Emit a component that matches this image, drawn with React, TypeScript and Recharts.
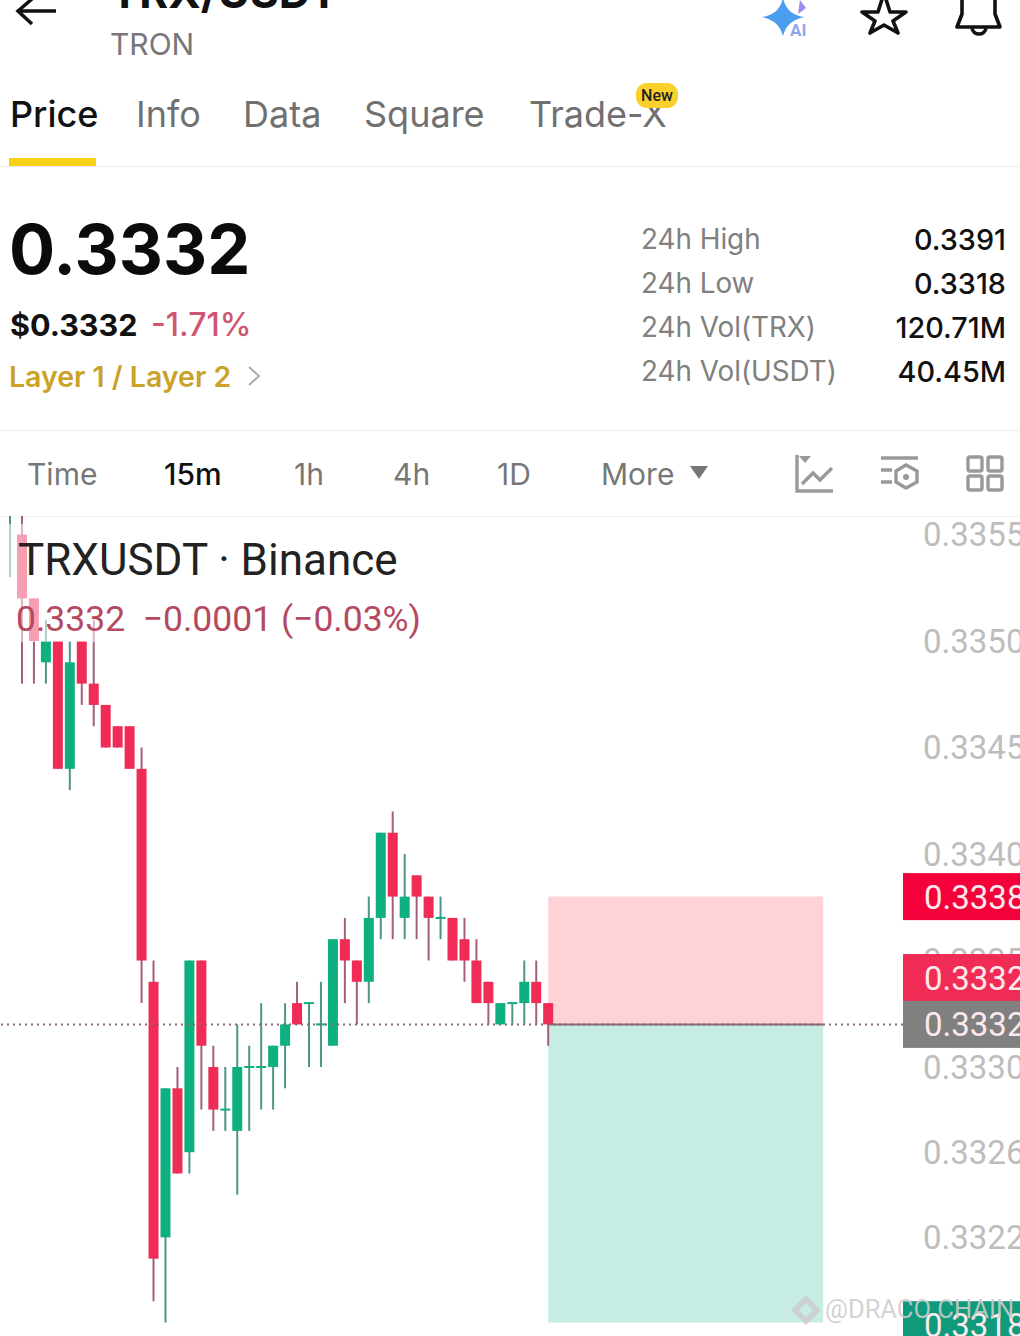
import React from 'react';
import { Bar, ComposedChart, ReferenceArea, ReferenceDot, ReferenceLine, XAxis, YAxis } from 'recharts';

// 15m candles (one tick = 0.0001)
const opens = [0.3356, 0.3355, 0.3352, 0.3349, 0.335, 0.3344, 0.335, 0.3348, 0.3347, 0.3346, 0.3346, 0.3344, 0.3334, 0.3322, 0.3329, 0.3326, 0.3335, 0.333, 0.3328, 0.3327, 0.333, 0.333, 0.333, 0.3331, 0.3333, 0.3333, 0.3332, 0.3331, 0.3336, 0.3335, 0.3334, 0.3337, 0.3341, 0.3337, 0.3339, 0.3338, 0.3337, 0.3337, 0.3336, 0.3335, 0.3334, 0.3332, 0.3333, 0.3333, 0.3334, 0.3333];
const highs = [0.3356, 0.3356, 0.3352, 0.3351, 0.335, 0.335, 0.335, 0.3351, 0.3347, 0.3346, 0.3346, 0.3345, 0.3335, 0.3329, 0.333, 0.3335, 0.3335, 0.3331, 0.333, 0.3332, 0.3331, 0.3333, 0.3331, 0.3333, 0.3334, 0.3333, 0.3334, 0.3336, 0.3337, 0.3335, 0.3338, 0.3341, 0.3342, 0.334, 0.3339, 0.3338, 0.3338, 0.3337, 0.3337, 0.3336, 0.3334, 0.3333, 0.3333, 0.3335, 0.3335, 0.3333];
const lows = [0.3353, 0.3348, 0.3348, 0.3348, 0.3344, 0.3343, 0.3347, 0.3346, 0.3345, 0.3345, 0.3344, 0.3333, 0.3319, 0.3318, 0.3325, 0.3325, 0.3328, 0.3327, 0.3327, 0.3324, 0.3327, 0.3328, 0.3328, 0.3329, 0.3332, 0.333, 0.333, 0.3331, 0.3333, 0.3332, 0.3333, 0.3336, 0.3336, 0.3336, 0.3336, 0.3335, 0.3336, 0.3335, 0.3334, 0.3333, 0.3332, 0.3332, 0.3332, 0.3332, 0.3332, 0.3331];
const closes = [0.3356, 0.3352, 0.335, 0.335, 0.3344, 0.3349, 0.3348, 0.3347, 0.3345, 0.3345, 0.3344, 0.3335, 0.3321, 0.3329, 0.3325, 0.3335, 0.3331, 0.3328, 0.3328, 0.333, 0.333, 0.333, 0.3331, 0.3332, 0.3332, 0.3333, 0.3332, 0.3336, 0.3335, 0.3334, 0.3337, 0.3341, 0.3338, 0.3338, 0.3338, 0.3337, 0.3337, 0.3335, 0.3335, 0.3333, 0.3333, 0.3333, 0.3333, 0.3334, 0.3333, 0.3332];

const priceTicks = [0.3355, 0.335, 0.3345, 0.334, 0.3335, 0.333, 0.3326, 0.3322, 0.3318];
const lastPrice = 0.3332;
const stopPrice = 0.3338;
const targetPrice = 0.3318;
const positionStart = 45;
const positionEnd = 68;

const tagValues = [0.3338, 0.33342, 0.3332, 0.33179];
const tagLabels = ['0.3338', '0.3332', '0.3332', '0.3318'];
const tagColors = ['#F4003A', '#F02C56', '#808080', '#0E9A7B'];

const tabs = ['Price', 'Info', 'Data', 'Square', 'Trade-X'];
const tabLefts = [10, 136, 243, 364, 529];
const intervals = ['Time', '15m', '1h', '4h', '1D', 'More'];
const intervalLefts = [27, 164, 294, 393, 497, 601];
const statLabels = ['24h High', '24h Low', '24h Vol(TRX)', '24h Vol(USDT)'];
const statValues = ['0.3391', '0.3318', '120.71M', '40.45M'];
const statRows = [240, 284, 328, 372];

const chartData = opens.map((open, i) => ({
  i,
  open,
  close: closes[i],
  range: [lows[i], highs[i]],
}));

const RED = '#EE2C55';
const GREEN = '#0EB07F';
const FONT = 'Roboto, sans-serif';
const UI_FONT = 'Inter, sans-serif';
const X_DOMAIN = [-0.836, 74.67];
const Y_DOMAIN = [0.331737, 0.335587];

function Candle(props: any) {
  const { x, y, width, height, payload } = props;
  const high = payload.range[1];
  const low = payload.range[0];
  const up = payload.close >= payload.open;
  const perPrice = height / (high - low);
  const bodyTop = y + (high - Math.max(payload.open, payload.close)) * perPrice;
  const bodyH = Math.abs(payload.open - payload.close) * perPrice;
  const cx = x + width / 2;
  return (
    <g>
      <line x1={cx} x2={cx} y1={y} y2={y + height} stroke={up ? '#4F9585' : '#A4607A'} strokeWidth={2} />
      <rect x={x} y={bodyTop - (bodyH ? 0 : 1)} width={width} height={bodyH || 2} fill={up ? GREEN : RED} />
    </g>
  );
}

function PriceTag(props: any) {
  const { cy, label, color } = props;
  return (
    <g>
      <rect x={903} y={cy - 23.5} width={117} height={47} fill={color} />
      <text x={924} y={cy + 12} fill="#FCE9EC" fontSize={33} fontFamily={FONT}>{label}</text>
    </g>
  );
}

function T({ x, y, size, color = '#777', weight = 400, right, font = UI_FONT, children }: any) {
  const pos: any = right !== undefined ? { right } : { left: x };
  return (
    <div style={{ position: 'absolute', ...pos, top: y, transform: 'translateY(-50%)', fontSize: size, color, fontWeight: weight, fontFamily: font, whiteSpace: 'pre', lineHeight: 1 }}>
      {children}
    </div>
  );
}

function Icons() {
  return (
    <svg width={1020} height={520} style={{ position: 'absolute', left: 0, top: 0 }}>
      {/* back arrow */}
      <path d="M56 11H20M32 -1L18 11L32 24" fill="none" stroke="#111" strokeWidth={3.5} />
      {/* AI sparkle */}
      <path d="M783 -2C786 10 792 15 804 17C792 20 786 25 783 36C780 25 774 20 762 17C774 15 780 10 783 -2Z" fill="#4C9CF0" />
      <path d="M800 0L806 8L798 14Z" fill="#9A8CF0" />
      <text x={790} y={36} fontSize={17} fontWeight={700} fill="#8FA5EA" fontFamily={FONT}>AI</text>
      {/* star */}
      <path d="M884 -7L890 12L906 12L893 21L898 33L884 25L870 33L875 21L862 12L878 12Z" fill="none" stroke="#111" strokeWidth={3.6} strokeLinejoin="round" />
      {/* bell */}
      <path d="M962 -5V14L957 27H1000L995 14V-5" fill="none" stroke="#111" strokeWidth={3.6} strokeLinejoin="round" />
      <path d="M972 28C973 36 985 36 986 28" fill="none" stroke="#111" strokeWidth={3.6} />
      {/* tab underline and dividers */}
      <rect x={9} y={158} width={87} height={8} fill="#F9D018" />
      <rect x={0} y={166} width={1020} height={1} fill="#EDEDED" />
      <rect x={0} y={430} width={1020} height={1} fill="#EDEDED" />
      <rect x={0} y={516} width={1020} height={1} fill="#F2F2F2" />
      {/* chevron and dropdown triangle */}
      <path d="M249 367L259 376L249 385" fill="none" stroke="#AAA" strokeWidth={2} />
      <path d="M690 466H708L699 479Z" fill="#777" />
      {/* toolbar icons */}
      <g fill="none" stroke="#999" strokeWidth={3.4}>
        <path d="M797 455V491H833" />
        <path d="M802 484L813 473L820 480L832 468" />
        <path d="M881 458H918M881 470H892M881 482H892" />
        <path d="M906 465L917 471V482L906 488L896 482V471Z" />
        <rect x={968} y={457} width={14} height={14} rx={2} />
        <rect x={988} y={457} width={14} height={14} rx={2} />
        <rect x={968} y={476} width={14} height={14} rx={2} />
        <rect x={988} y={476} width={14} height={14} rx={2} />
      </g>
      <path d="M799 456H811L805 463Z" fill="#999" />
      <circle cx={906} cy={477} r={3} fill="#999" />
    </svg>
  );
}

export default function App() {
  return (
    <div style={{ position: 'absolute', left: 0, top: 0, width: 1020, height: 1336, overflow: 'hidden', background: '#fff' }}>
      <Icons />
      <T x={110} y={-8} size={44} color="#111" weight={700}>TRX/USDT</T>
      <T x={110} y={44} size={30}>TRON</T>
      {tabs.map((t, i) => (
        <T key={t} x={tabLefts[i]} y={114} size={36} color={i === 0 ? '#111' : '#707070'} weight={i === 0 ? 500 : 400}>{t}</T>
      ))}
      {/* new badge sits over the last tab */}
      <svg width={50} height={30} style={{ position: 'absolute', left: 632, top: 80 }}>
        <rect x={4} y={3} width={42} height={25} rx={11} fill="#FAD02C" />
        <text x={25} y={21} textAnchor="middle" fontSize={16} fill="#222" fontFamily={FONT} fontWeight={500}>New</text>
      </svg>
      <T x={9} y={250} size={68.5} color="#0B0B0B" weight={700}>0.3332</T>
      <T x={10} y={325} size={30.5} color="#111" weight={700}>$0.3332</T>
      <T x={151} y={325} size={32} color="#CF5570" weight={500}>-1.71%</T>
      <T x={9} y={377} size={28.5} color="#C9A227" weight={600}>Layer 1 / Layer 2</T>
      {statLabels.map((s, i) => (
        <React.Fragment key={s}>
          <T x={641} y={statRows[i]} size={27.8} color="#808080">{s}</T>
          <T right={14} y={statRows[i]} size={28.8} color="#111" weight={500}>{statValues[i]}</T>
        </React.Fragment>
      ))}
      {intervals.map((t, i) => (
        <T key={t} x={intervalLefts[i]} y={474} size={30} color={i === 1 ? '#111' : '#777'} weight={i === 1 ? 500 : 400}>{t}</T>
      ))}

      <div style={{ position: 'absolute', left: 0, top: 516 }}>
        <ComposedChart width={1020} height={820} data={chartData} margin={{ top: 0, right: 0, bottom: 0, left: 0 }}>
          <XAxis type="number" dataKey="i" domain={X_DOMAIN} hide allowDataOverflow />
          <YAxis
            orientation="right"
            width={117}
            domain={Y_DOMAIN}
            allowDataOverflow
            ticks={priceTicks}
            interval={0}
            tickFormatter={(v: number) => v.toFixed(4)}
            axisLine={false}
            tickLine={false}
            tickSize={0}
            tickMargin={20}
            tick={{ fill: '#BDBDBD', fontSize: 33, fontFamily: FONT }}
          />
          <ReferenceArea x1={positionStart} x2={positionEnd} y1={stopPrice} y2={lastPrice} fill="#FFD2D8" fillOpacity={1} stroke="none" />
          <ReferenceArea x1={positionStart} x2={positionEnd} y1={lastPrice} y2={targetPrice} fill="#C6ECE4" fillOpacity={1} stroke="none" />
          <ReferenceLine y={lastPrice} stroke="#8A6A70" strokeWidth={2} strokeDasharray="2 4" />
          <ReferenceLine segment={[{ x: positionStart, y: lastPrice }, { x: positionEnd, y: lastPrice }]} stroke="#8A6A70" strokeWidth={2} />
          <Bar dataKey="range" barSize={10} shape={<Candle />} isAnimationActive={false} />
        </ComposedChart>
      </div>

      {/* price tags cover the axis labels, so they get their own layer on top */}
      <div style={{ position: 'absolute', left: 0, top: 516 }}>
        <ComposedChart width={1020} height={820} data={chartData} margin={{ top: 0, right: 117, bottom: 0, left: 0 }}>
          <XAxis type="number" dataKey="i" domain={X_DOMAIN} hide allowDataOverflow />
          <YAxis hide domain={Y_DOMAIN} allowDataOverflow />
          {tagValues.map((v, i) => (
            <ReferenceDot
              key={i}
              x={X_DOMAIN[1]}
              y={v}
              r={0}
              ifOverflow="visible"
              shape={(p: any) => <PriceTag cy={p.cy} label={tagLabels[i]} color={tagColors[i]} />}
            />
          ))}
        </ComposedChart>
      </div>

      {/* legend sits on a translucent panel over the candles */}
      <div style={{ position: 'absolute', left: 0, top: 524, width: 420, height: 118, background: 'rgba(255,255,255,0.55)' }} />
      <T x={18} y={560} size={44} color="#222" font={FONT}>TRXUSDT · Binance</T>
      <T x={16} y={620} size={35.5} color="#B5495F" font={FONT}>{'0.3332  −0.0001 (−0.03%)'}</T>
      <T x={825} y={1310} size={25.5} color="rgba(205,205,205,0.9)" font={FONT}>@DRACO CHAIN</T>
      <svg width={40} height={40} style={{ position: 'absolute', left: 790, top: 1294 }}>
        <path d="M16 1L31 16L16 31L1 16Z M16 9L23 16L16 23L9 16Z" fill="rgba(205,205,205,0.9)" fillRule="evenodd" />
      </svg>
    </div>
  );
}
